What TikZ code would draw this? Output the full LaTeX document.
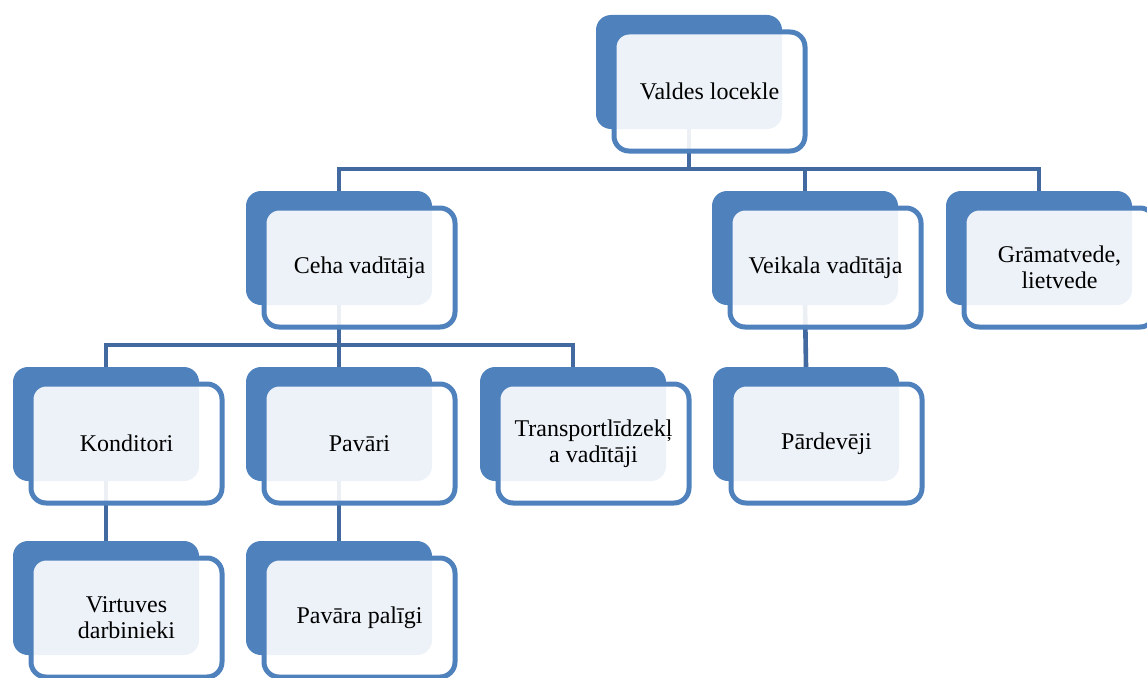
\documentclass[tikz,border=0pt]{standalone}
\usepackage{fontspec}
\setmainfont{Liberation Serif}

\definecolor{boxblue}{RGB}{79,129,189}
\definecolor{linkblue}{RGB}{66,106,160}

\begin{document}
\begin{tikzpicture}[x=1pt, y=-1pt,
		back/.style={fill=boxblue, rounded corners=15pt, minimum width=186pt, minimum height=114pt, inner sep=0pt},
		front/.style={draw=boxblue, line width=5pt, fill=white, fill opacity=0.9, text opacity=1, rounded corners=15pt,
			minimum width=191pt, minimum height=119pt, inner sep=0pt, align=center, font=\fontsize{24}{26}\selectfont},
		link/.style={draw=linkblue, line width=4.6pt}]
		\useasboundingbox (0, 0) rectangle (1147, 677);
		
		% dark boxes at the back
		\node[back] (valdesB) at (689, 72) {};
		\node[back] (cehaB) at (339, 248) {};
		\node[back] (veikalaB) at (805, 248) {};
		\node[back] (gramatB) at (1039, 248) {};
		\node[back] (konditoriB) at (106, 424) {};
		\node[back] (pavariB) at (339, 424) {};
		\node[back] (transpB) at (573, 424) {};
		\node[back] (pardevB) at (806, 424) {};
		\node[back] (virtuvesB) at (106, 598) {};
		\node[back] (paligiB) at (339, 598) {};
		
		\coordinate (bus1) at (0, 169);
		\coordinate (bus2) at (0, 345);
		
		% links
		\draw[link] (valdesB.south) -- (valdesB.south |- bus1);
		\draw[link] (cehaB.north) -- (cehaB.north |- bus1) -- (gramatB.north |- bus1) -- (gramatB.north);
		\draw[link] (veikalaB.north) -- (veikalaB.north |- bus1);
		\draw[link] (cehaB.south) -- (cehaB.south |- bus2);
		\draw[link] (konditoriB.north) -- (konditoriB.north |- bus2) -- (transpB.north |- bus2) -- (transpB.north);
		\draw[link] (pavariB.north) -- (pavariB.north |- bus2);
		\draw[link] (veikalaB.south) -- (pardevB.north);
		\draw[link] (konditoriB.south) -- (virtuvesB.north);
		\draw[link] (pavariB.south) -- (paligiB.north);
		
		% light boxes in front
		\node[front] (valdes) at ([shift={(20.5, 19.5)}]valdesB.center) {Valdes locekle};
		\node[front] (ceha) at ([shift={(20.5, 19.5)}]cehaB.center) {Ceha vadītāja};
		\node[front] (veikala) at ([shift={(20.5, 19.5)}]veikalaB.center) {Veikala vadītāja};
		\node[front] (gramat) at ([shift={(20.5, 19.5)}]gramatB.center) {Grāmatvede,\\lietvede};
		\node[front] (konditori) at ([shift={(20.5, 19.5)}]konditoriB.center) {Konditori};
		\node[front] (pavari) at ([shift={(20.5, 19.5)}]pavariB.center) {Pavāri};
		\node[front] (transp) at ([shift={(20.5, 19.5)}]transpB.center) {Transportlīdzekļ\\a vadītāji};
		\node[front] (pardev) at ([shift={(20.5, 19.5)}]pardevB.center) {Pārdevēji};
		\node[front] (virtuves) at ([shift={(20.5, 19.5)}]virtuvesB.center) {Virtuves\\darbinieki};
		\node[front] (paligi) at ([shift={(20.5, 19.5)}]paligiB.center) {Pavāra palīgi};
	\end{tikzpicture}
\end{document}
